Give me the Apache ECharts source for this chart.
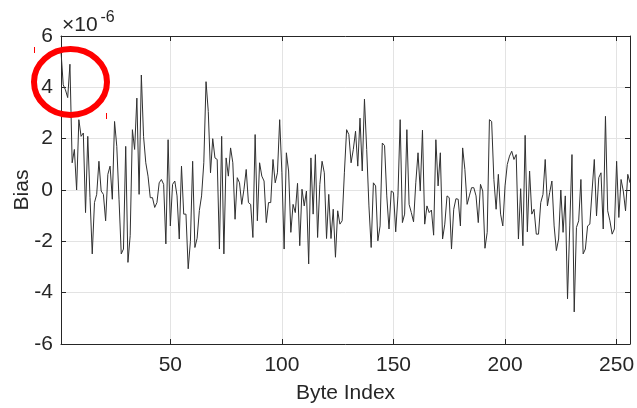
<!DOCTYPE html>
<html><head><meta charset="utf-8">
<script src="https://cdn.jsdelivr.net/npm/echarts@6/dist/echarts.min.js"></script>
<style>html,body{margin:0;padding:0;background:#fff}#c{width:637px;height:408px}</style>
</head><body><div id="c"></div>
<script>
// Bias values in units of 1e-6, one per byte index 1..256
const biasE6 = [
 5.4, 4.1, 3.9, 3.6, 4.9, 1.06, 1.58, 0.0, 2.74, 2.09,
 2.22, -0.88, 2.09, -0.3, -2.49, -0.49, -0.17, 1.12, -0.04, -0.17,
 -1.2, 0.61, 0.93, -0.36, 2.67, 1.7, -0.36, -2.49, -2.3, 1.7,
 -2.82, -1.78, 2.35, 1.58, 3.58, -0.17, 4.48, 2.09, 1.06, 0.54,
 -0.3, -0.3, -0.68, -0.49, 0.28, 0.41, 0.22, -2.1, 1.96, -1.4,
 0.22, 0.35, -0.23, -1.91, 0.93, -0.94, -0.94, -3.07, -2.0, 1.12,
 -2.24, -1.88, -0.8, -0.23, 1.06, 4.22, 3.06, 0.67, 2.0, 1.25,
 1.19, -2.3, 2.09, -2.49, 1.25, 0.54, 1.64, 1.06, -1.14, 0.48,
 0.28, -0.56, 0.03, 0.8, -0.49, -0.56, -1.85, 2.16, -1.2, 1.06,
 0.54, 0.35, -1.27, -0.49, -0.49, 1.19, 0.28, 0.67, 2.74, 0.67,
 -2.3, 1.45, 0.74, -1.65, -0.56, -0.88, 0.26, -2.17, 0.03, -0.62,
 -0.04, -2.88, 1.25, -0.94, 1.38, -1.85, 0.22, 1.12, 0.67, -1.89,
 -0.17, -1.89, -0.75, -2.62, -0.81, -1.33, -1.2, 0.67, 2.35, 2.16,
 1.06, 1.58, 2.29, 0.93, 2.8, 0.74, 3.54, 1.58, -0.62, -2.24,
 0.28, 0.16, -1.98, -1.4, 1.83, 1.73, -0.23, -1.52, -0.04, -0.1,
 -1.63, -0.23, 2.74, -1.27, -0.94, 2.35, -0.56, -0.88, -1.24, 0.28,
 1.45, -0.04, 2.33, -1.33, -0.62, -0.88, -0.78, -1.76, 1.96, 0.16,
 1.45, -1.91, -1.33, -0.23, -0.3, -2.3, -0.75, -0.34, -0.36, -1.4,
 1.64, 0.8, -0.56, -0.23, 0.09, 0.09, -0.23, -1.27, 0.22, -0.04,
 -2.27, -1.65, 2.74, 2.67, 0.41, -0.75, 0.61, -0.94, -1.4, 0.16,
 0.99, 1.32, 1.51, 1.19, 1.38, -1.91, 0.05, -2.17, 2.13, -1.63,
 0.74, -0.94, -0.75, -1.72, -1.72, -0.49, -0.17, 1.19, -0.62, -0.1,
 0.35, -1.4, -2.36, -1.91, 0.0, -1.65, -0.23, -4.24, -1.4, 1.38,
 -4.75, -1.46, -1.2, 0.41, -2.49, -2.3, -1.4, -1.33, -0.04, 1.19,
 -1.01, 0.48, 0.67, -1.52, 2.87, -0.81, -1.2, -1.72, -1.52, 1.12,
 -1.07, 0.41, -0.04, -0.81, 0.61, 0.28
];
const byteIndex = biasE6.map((_, k) => k + 1);
const xTicks = [50, 100, 150, 200, 250];
const xRange = [1, 256];
const yRange = [-6, 6];
const yStep = 2;
const xTitle = 'Byte Index';
const yTitle = 'Bias';
const exponentBase = '×10';
const exponentPow = '-6';

const FONT = '"Liberation Sans", Arial, Helvetica, sans-serif';
const TXT = '#262626';
const GRID = '#e3e3e3';
const FS = 21;

const chart = echarts.init(document.getElementById('c'), null, {renderer: 'canvas'});
const lineAxis = {onZero: false, lineStyle: {color: TXT, width: 1}};
chart.setOption({
  animation: false,
  backgroundColor: '#fff',
  grid: {left: 61, right: 7, top: 36, bottom: 64, containLabel: false, outerBoundsMode: 'none'},
  xAxis: [
    {
      type: 'value', min: xRange[0], max: xRange[1], position: 'bottom',
      axisLine: lineAxis,
      axisTick: {show: true, inside: true, length: 5, customValues: xTicks, lineStyle: {color: TXT}},
      axisLabel: {customValues: xTicks, color: TXT, fontSize: FS, fontFamily: FONT, margin: 11},
      splitLine: {show: true, lineStyle: {color: GRID, width: 1}},
      name: xTitle, nameLocation: 'middle', nameGap: 39, nameMoveOverlap: false,
      nameTextStyle: {color: TXT, fontSize: FS, fontFamily: FONT}
    },
    {
      type: 'value', min: xRange[0], max: xRange[1], position: 'top',
      axisLine: lineAxis,
      axisTick: {show: true, inside: true, length: 5, customValues: xTicks, lineStyle: {color: TXT}},
      axisLabel: {show: false},
      splitLine: {show: false}
    }
  ],
  yAxis: [
    {
      type: 'value', min: yRange[0], max: yRange[1], interval: yStep, position: 'left',
      axisLine: {show: true, onZero: false, lineStyle: {color: TXT, width: 1}},
      axisTick: {show: true, inside: true, length: 5, lineStyle: {color: TXT}},
      axisLabel: {color: TXT, fontSize: FS, fontFamily: FONT, margin: 8},
      splitLine: {show: true, lineStyle: {color: GRID, width: 1}},
      name: yTitle, nameLocation: 'middle', nameGap: 28, nameRotate: 90, nameMoveOverlap: false,
      nameTextStyle: {color: TXT, fontSize: FS, fontFamily: FONT}
    },
    {
      type: 'value', min: yRange[0], max: yRange[1], interval: yStep, position: 'right',
      axisLine: {show: true, onZero: false, lineStyle: {color: TXT, width: 1}},
      axisTick: {show: true, inside: true, length: 5, lineStyle: {color: TXT}},
      axisLabel: {show: false},
      splitLine: {show: false}
    }
  ],
  series: [{
    type: 'line',
    xAxisIndex: 0, yAxisIndex: 0,
    data: byteIndex.map((x, k) => [x, biasE6[k]]),
    showSymbol: false, symbol: 'none',
    lineStyle: {color: '#303030', width: 1},
    z: 3
  }],
  graphic: [
    {type: 'text', x: 62, y: 25, z: 10,
     style: {text: exponentBase, fill: TXT, fontSize: 21, fontFamily: FONT, verticalAlign: 'middle'}},
    {type: 'text', x: 100.5, y: 17.5, z: 10,
     style: {text: exponentPow, fill: TXT, fontSize: 16, fontFamily: FONT, verticalAlign: 'middle'}},
    {type: 'ellipse', z: 20,
     shape: {cx: 70.5, cy: 82, rx: 36.5, ry: 33},
     style: {fill: 'none', stroke: '#ff0000', lineWidth: 6}},
    {type: 'line', z: 20, shape: {x1: 34.5, y1: 47, x2: 34.5, y2: 53},
     style: {stroke: '#ff0000', lineWidth: 1}},
    {type: 'line', z: 20, shape: {x1: 106.5, y1: 113, x2: 106.5, y2: 119},
     style: {stroke: '#ff0000', lineWidth: 1}}
  ]
});
</script>
</body></html>
